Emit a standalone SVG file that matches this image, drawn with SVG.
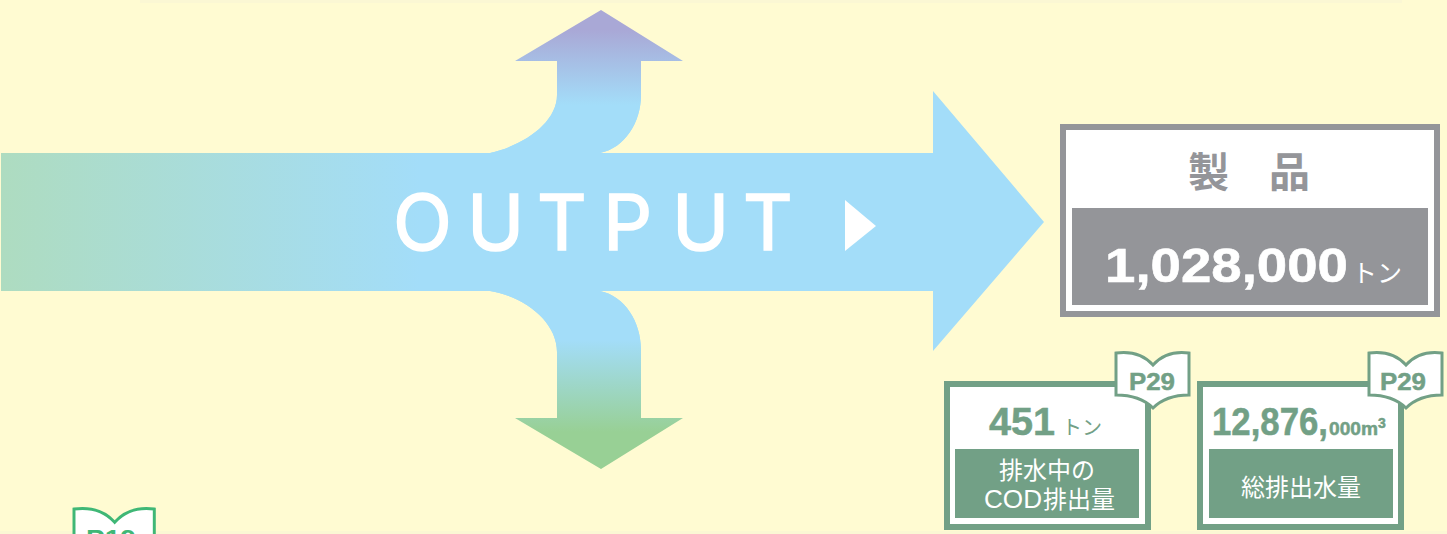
<svg xmlns="http://www.w3.org/2000/svg" width="1447" height="534" viewBox="0 0 1447 534">
<defs>
<linearGradient id="gMain" gradientUnits="userSpaceOnUse" x1="0" y1="0" x2="420" y2="0"><stop offset="0" stop-color="#aedcc0"/><stop offset="1" stop-color="#a3ddf9"/></linearGradient>
<linearGradient id="gUp" gradientUnits="userSpaceOnUse" x1="0" y1="30" x2="0" y2="105"><stop offset="0" stop-color="#a9a8d6"/><stop offset="1" stop-color="#a3ddf9"/></linearGradient>
<linearGradient id="gDown" gradientUnits="userSpaceOnUse" x1="0" y1="340" x2="0" y2="432"><stop offset="0" stop-color="#a3ddf9"/><stop offset="1" stop-color="#98d095"/></linearGradient>
<path id="book" d="M0 0C15 -2 28 2 37 12C46 2 58 -2 73 0V42C58 42 46 46 37 55C28 46 15 42 0 42Z"/>
</defs>
<style>
text{font-family:"Liberation Sans","Noto Sans CJK JP",sans-serif}
.cjk{font-family:"Noto Sans CJK JP","Liberation Sans",sans-serif}
.gw{fill:#fff;stroke:#72a086;stroke-width:6}
.gd{fill:#72a086}
.gt{fill:#72a086;font-weight:700;stroke:#72a086;stroke-width:.5}
.wh{fill:#fff}
.bk{fill:#fff;stroke:#72a086;stroke-width:3}
</style>
<rect width="1447" height="534" fill="#fffbd2"/>
<rect x="140" y="0" width="1262" height="3" fill="#fbf7d4"/>
<rect x="0" y="531" width="1447" height="3" fill="#fbf7d4"/>
<g id="connectors">
<path fill="url(#gMain)" d="M1 153H490C525 145 557 122 557 95V61H641V95C641 122 625 148 600 153H933V91L1044 222L933 351V291H600C625 296 641 322 641 350V418H557V352C557 322 525 297 490 291H1Z"/>
<path fill="url(#gUp)" d="M601 10L683 61H641V95C641 122 625 148 600 153H490C525 145 557 122 557 95V61H515Z"/>
<path fill="url(#gDown)" d="M490 291H600C625 296 641 322 641 350V418H683L601 469L515 418H557V352C557 322 525 297 490 291Z"/>
</g>
<g id="output-label">
<text x="393 467 537 603 672 743" y="250" font-size="77" class="wh" stroke="#fff" stroke-width="1.6" style="font-family:Inter,'Liberation Sans',sans-serif;font-weight:400">OUTPUT</text>
<polygon class="wh" points="845,200 876,226 845,251"/>
</g>
<g id="product">
<rect x="1063" y="127" width="374" height="187" fill="#fff" stroke="#949599" stroke-width="6"/>
<rect x="1072" y="208" width="356" height="97" fill="#949599"/>
<text class="cjk" x="1188 1269" y="187" font-size="41" font-weight="700" fill="#949599">製品</text>
<text x="1105" y="282" font-size="49" font-weight="700" fill="#fff" stroke="#fff" stroke-width=".6" textLength="243" lengthAdjust="spacingAndGlyphs">1,028,000</text>
<text class="cjk" x="1352" y="282" font-size="25" fill="#fff">トン</text>
</g>
<g id="cod">
<rect class="gw" x="947" y="384" width="201" height="143"/>
<rect class="gd" x="955" y="449" width="184" height="69"/>
<text x="989" y="435" font-size="38" class="gt" textLength="66" lengthAdjust="spacingAndGlyphs">451</text>
<text class="cjk" x="1062" y="435" font-size="20" fill="#72a086">トン</text>
<text class="cjk wh" x="1047" y="479" font-size="24" text-anchor="middle">排水中の</text>
<text class="wh" x="984" y="508" font-size="26" textLength="58" lengthAdjust="spacingAndGlyphs">COD</text>
<text class="cjk wh" x="1043" y="508" font-size="24">排出量</text>
<use href="#book" x="1116" y="353" class="bk"/>
<text x="1129" y="390" font-size="24" class="gt" textLength="46" lengthAdjust="spacingAndGlyphs">P29</text>
</g>
<g id="water">
<rect class="gw" x="1200" y="384" width="201" height="143"/>
<rect class="gd" x="1209" y="449" width="184" height="69"/>
<text x="1212" y="435" font-size="38" class="gt" textLength="116" lengthAdjust="spacingAndGlyphs">12,876,</text>
<text x="1329" y="435" font-size="19" class="gt" textLength="49" lengthAdjust="spacingAndGlyphs">000m</text>
<text x="1378" y="428" font-size="14" class="gt">3</text>
<text class="cjk wh" x="1301" y="496" font-size="24" text-anchor="middle">総排出水量</text>
<use href="#book" x="1369" y="353" class="bk"/>
<text x="1380" y="390" font-size="24" class="gt" textLength="46" lengthAdjust="spacingAndGlyphs">P29</text>
</g>
<g id="page-ref">
<use href="#book" transform="translate(74 509) scale(1.1)" style="fill:#fff;stroke:#3fb776;stroke-width:2.7"/>
<text x="86" y="547" font-size="24" font-weight="700" fill="#3fb776" textLength="50" lengthAdjust="spacingAndGlyphs">P19</text>
</g>
</svg>
